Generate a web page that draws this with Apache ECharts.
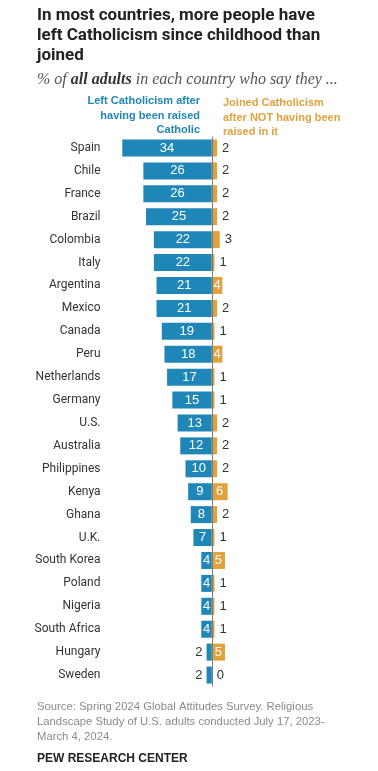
<!DOCTYPE html>
<html><head><meta charset="utf-8">
<script src="https://cdn.jsdelivr.net/npm/echarts@6/dist/echarts.min.js"></script>
<style>html,body{margin:0;padding:0;background:#fff}#c{width:378px;height:771px}</style>
</head><body><div id="c"></div>
<script>
const countries = ["Spain","Chile","France","Brazil","Colombia","Italy","Argentina","Mexico","Canada","Peru","Netherlands","Germany","U.S.","Australia","Philippines","Kenya","Ghana","U.K.","South Korea","Poland","Nigeria","South Africa","Hungary","Sweden"];
const leftCatholicism = [34,26,26,25,22,22,21,21,19,18,17,15,13,12,10,9,8,7,4,4,4,4,2,2];
const joinedCatholicism = [2,2,2,2,3,1,4,2,1,4,1,1,2,2,2,6,2,1,5,1,1,1,5,0];

const BLUE = '#1f87b7', ORANGE = '#e2a13c';
const FONT = '"Liberation Sans", Arial, sans-serif';
const RFONT = 'Roboto, "Liberation Sans", sans-serif';

const chart = echarts.init(document.getElementById('c'), null, {renderer:'canvas'});
chart.setOption({
  animation:false,
  grid:{left:106.5, top:136.5, height:550, width:158},
  xAxis:{type:'value', min:-40, max:20, show:false},
  yAxis:{type:'category', data:countries, inverse:true,
    axisLine:{show:false}, axisTick:{show:false},
    axisLabel:{color:'#333', fontSize:12, fontFamily:RFONT, margin:6}},
  series:[
    {type:'bar', name:'left', barWidth:17, barGap:'-100%',
      itemStyle:{color:BLUE},
      data:leftCatholicism.map(v=>({value:-v, label:{
        show:true, position: v>=4?'inside':'left', distance:4,
        color: v>=4?'#fff':'#333', fontSize:13, fontFamily:FONT,
        formatter:String(v)}})),
      markLine:{silent:true, symbol:'none', label:{show:false},
        lineStyle:{color:'#7a7a7a', type:'solid', width:1},
        data:[{xAxis:0}]}
    },
    {type:'bar', name:'joined', barWidth:17,
      itemStyle:{color:ORANGE},
      data:joinedCatholicism.map(v=>({value:v, label:{
        show:true, position: v>=4?'inside':'right', distance:v>=4?0:5,
        color: v>=4?'#fff':'#333', fontSize:13, fontFamily:FONT,
        formatter:String(v)}}))
    }
  ],
  graphic:[
    {type:'text', x:37, y:6, style:{text:'In most countries, more people have\nleft Catholicism since childhood than\njoined', font:'bold 17px '+RFONT, fill:'#222', lineHeight:20}},
    {type:'text', x:37, y:72, style:{
      text:'{i|% of }{b|all adults}{i| in each country who say they ...}',
      rich:{i:{font:'italic 16px "Liberation Serif", serif', fill:'#555'},
            b:{font:'italic bold 16px "Liberation Serif", serif', fill:'#333'}}}},
    {type:'text', x:200, y:94, style:{text:'Left Catholicism after\nhaving been raised\nCatholic', font:'bold 11px '+FONT, fill:BLUE, lineHeight:14.5, align:'right'}},
    {type:'text', x:223, y:96, style:{text:'Joined Catholicism\nafter NOT having been\nraised in it', font:'bold 11px '+FONT, fill:ORANGE, lineHeight:14.5}},
    {type:'text', x:37, y:699, style:{text:'Source: Spring 2024 Global Attitudes Survey. Religious\nLandscape Study of U.S. adults conducted July 17, 2023-\nMarch 4, 2024.', font:'11.3px '+FONT, fill:'#8a8a8a', lineHeight:15}},
    {type:'text', x:37, y:753, style:{text:'PEW RESEARCH CENTER', font:'bold 12px '+FONT, fill:'#222'}}
  ]
});
</script></body></html>
